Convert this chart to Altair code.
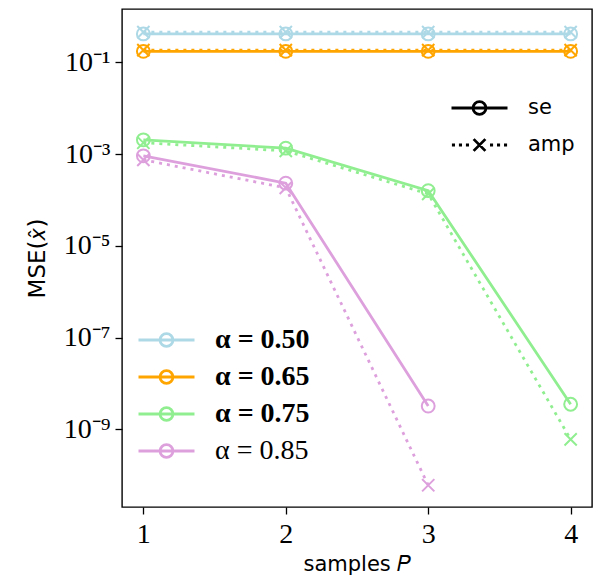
import altair as alt
import pandas as pd

# ---- data ----
alphas = ["0.50", "0.65", "0.75", "0.85"]
alpha_colors = ["#add8e6", "#ffa500", "#90ee90", "#dda0dd"]
samples = [1, 2, 3, 4]

se_a050 = [0.42, 0.42, 0.42, 0.42]
se_a065 = [0.175, 0.175, 0.175, 0.175]
se_a075 = [2.05e-3, 1.35e-3, 1.6e-4, 3.5e-9]
se_a085 = [9.2e-4, 2.33e-4, 3.2e-9]

amp_a050 = [0.46, 0.46, 0.46, 0.46]
amp_a065 = [0.185, 0.185, 0.185, 0.185]
amp_a075 = [1.77e-3, 1.18e-3, 1.36e-4, 6.0e-10]
amp_a085 = [7.5e-4, 1.84e-4, 6.0e-11]

y_ticks = [1e-9, 1e-7, 1e-5, 1e-3, 1e-1]
methods = ["se", "amp"]

rows = []
for a, s, m in [("0.50", se_a050, amp_a050), ("0.65", se_a065, amp_a065),
                ("0.75", se_a075, amp_a075), ("0.85", se_a085, amp_a085)]:
    for p, v in zip(samples, s):
        rows.append({"alpha": a, "P": p, "method": "se", "mse": v})
    for p, v in zip(samples, m):
        rows.append({"alpha": a, "P": p, "method": "amp", "mse": v})
df = pd.DataFrame(rows)

# ---- legend symbols (line + marker), in unit coordinates ----
path_se = ("M-1,0L1,0M0.23,0A0.23,0.23,0,1,1,-0.23,0"
           "A0.23,0.23,0,1,1,0.23,0Z")
path_amp = ("M-0.985,0L-0.875,0M-0.735,0L-0.625,0M-0.485,0L-0.375,0"
            "M0.375,0L0.485,0M0.625,0L0.735,0M0.875,0L0.985,0"
            "M-0.21,-0.21L0.21,0.21M-0.21,0.21L0.21,-0.21")
path_x = "M-1,-1L1,1M-1,1L1,-1"

SERIF = "Liberation Serif"
SANS = "DejaVu Sans"

x_enc = alt.X(
    "P:Q",
    scale=alt.Scale(domain=[0.85, 4.15], nice=False, zero=False),
    axis=alt.Axis(values=samples, format="d", title="samples 𝑃"),
)
y_enc = alt.Y(
    "mse:Q",
    scale=alt.Scale(type="log", domain=[10 ** -10.697, 10 ** 0.166], nice=False),
    axis=alt.Axis(
        values=y_ticks,
        title="MSE(𝑥̂)",
        labelExpr=(
            "datum.value == 1e-1 ? '10⁻¹' : datum.value == 1e-3 ? '10⁻³' : "
            "datum.value == 1e-5 ? '10⁻⁵' : datum.value == 1e-7 ? '10⁻⁷' : '10⁻⁹'"
        ),
    ),
)

color_scale = alt.Scale(domain=alphas, range=alpha_colors)

color_legend = alt.Legend(
    orient="none", legendX=15, legendY=316, title=None, padding=0,
    symbolType=path_se, symbolSize=3136, symbolStrokeWidth=2.8,
    symbolFillColor="transparent", symbolOpacity=1,
    clipHeight=30, rowPadding=7, labelOffset=19,
    labelFont=SERIF, labelFontSize=28, labelColor="black",
    labelFontWeight=alt.ExprRef(expr="datum.value == '0.85' ? 'normal' : 'bold'"),
    labelExpr="'α = ' + datum.label",
)

base = alt.Chart(df)

se_lines = base.transform_filter("datum.method == 'se'").mark_line(
    strokeWidth=2.8
).encode(
    x=x_enc, y=y_enc,
    color=alt.Color("alpha:N", scale=color_scale, legend=color_legend),
)

amp_lines = base.transform_filter("datum.method == 'amp'").mark_line(
    strokeWidth=2.8, strokeDash=[3, 5], strokeCap="butt"
).encode(
    x=x_enc, y=y_enc,
    color=alt.Color("alpha:N", scale=color_scale, legend=None),
)

se_pts = base.transform_filter("datum.method == 'se'").mark_point(
    shape="circle", filled=False, size=165, strokeWidth=2, opacity=1
).encode(
    x=x_enc, y=y_enc,
    color=alt.Color("alpha:N", scale=color_scale, legend=None),
)

amp_pts = base.transform_filter("datum.method == 'amp'").mark_point(
    shape=path_x, filled=False, size=150, strokeWidth=2, opacity=1
).encode(
    x=x_enc, y=y_enc,
    color=alt.Color("alpha:N", scale=color_scale, legend=None),
)

method_legend_layer = base.transform_filter("false").mark_point(
    filled=False, color="black", opacity=1
).encode(
    shape=alt.Shape(
        "method:N",
        scale=alt.Scale(domain=methods, range=[path_se, path_amp]),
        legend=alt.Legend(
            orient="none", legendX=328, legendY=84, title=None, padding=0,
            symbolSize=3136, symbolStrokeWidth=2.8, symbolStrokeColor="black",
            symbolFillColor="transparent", symbolOpacity=1,
            clipHeight=30, rowPadding=7, labelOffset=19,
            labelFont=SANS, labelFontSize=21, labelColor="black",
        ),
    ),
)

chart = alt.layer(
    se_lines, amp_lines, se_pts, amp_pts, method_legend_layer
).properties(
    width=470, height=498,
    autosize=alt.AutoSizeParams(type="none"),
    padding={"left": 122, "top": 9, "right": 2, "bottom": 70},
    background="white",
).configure_view(
    stroke="black", strokeWidth=1.4,
).configure_axis(
    grid=False, domain=False,
    ticks=True, tickColor="black", tickWidth=1.3, tickSize=7,
    labelFont=SERIF, labelFontSize=28, labelColor="black", labelPadding=5,
    titleFont=SANS, titleFontSize=21, titleFontWeight="normal", titleColor="black",
).configure_axisY(
    titlePadding=14, titleFontSize=23,
).configure_axisX(
    labelPadding=6, titlePadding=5,
)

chart.save("out.html", embed_options={"renderer": "svg", "actions": False})
